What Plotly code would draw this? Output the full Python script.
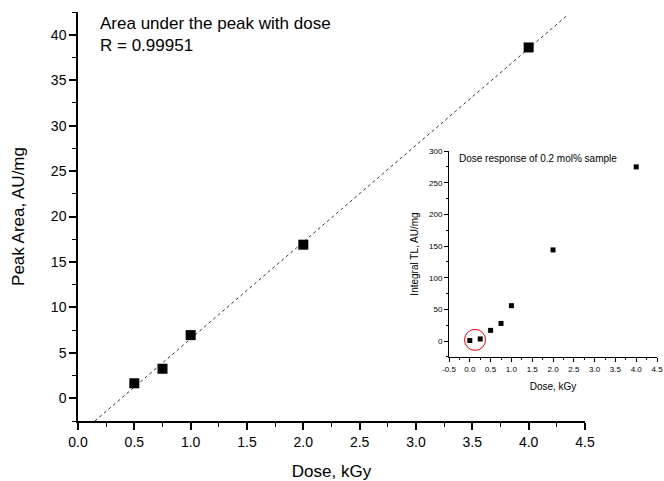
import numpy as np
import plotly.graph_objects as go

# Main plot data
dose_main = [0.5, 0.75, 1.0, 2.0, 4.0]
area_main = [1.65, 3.25, 6.95, 16.9, 38.6]
fit_x_range = [0.15, 4.34]

# Inset data
dose_inset = [0.0, 0.25, 0.5, 0.75, 1.0, 2.0, 4.0]
tl_inset = [1.0, 3.5, 17.0, 28.0, 56.0, 144.0, 275.0]
highlight_x = [0.125]
highlight_y = [2.0]

main_xticks = [0.0, 0.5, 1.0, 1.5, 2.0, 2.5, 3.0, 3.5, 4.0, 4.5]
main_yticks = [0, 5, 10, 15, 20, 25, 30, 35, 40]
inset_xticks = [-0.5, 0.0, 0.5, 1.0, 1.5, 2.0, 2.5, 3.0, 3.5, 4.0, 4.5]
inset_yticks = [0, 50, 100, 150, 200, 250, 300]

slope, intercept = np.polyfit(dose_main, area_main, 1)
fit_x = np.array(fit_x_range)
fit_y = slope * fit_x + intercept

FONT = "Liberation Sans, Arial, sans-serif"

fig = go.Figure()
fig.add_trace(go.Scatter(x=fit_x, y=fit_y, mode="lines",
                         line=dict(color="#333333", width=1, dash="dot"),
                         xaxis="x", yaxis="y", showlegend=False))
fig.add_trace(go.Scatter(x=dose_main, y=area_main, mode="markers",
                         marker=dict(symbol="square", size=10, color="black"),
                         xaxis="x", yaxis="y", showlegend=False))
fig.add_trace(go.Scatter(x=dose_inset, y=tl_inset, mode="markers",
                         marker=dict(symbol="square", size=5, color="black"),
                         xaxis="x2", yaxis="y2", showlegend=False))
fig.add_trace(go.Scatter(x=highlight_x, y=highlight_y, mode="markers",
                         marker=dict(symbol="circle-open", size=21, color="red",
                                     line=dict(color="red", width=1)),
                         xaxis="x2", yaxis="y2", showlegend=False))

axis_common = dict(showgrid=False, zeroline=False, showline=True, linecolor="black",
                   ticks="outside", tickcolor="black", mirror=False, automargin=False)

fig.update_layout(
    width=664, height=481,
    margin=dict(l=78, r=5, t=12, b=60, autoexpand=False),
    paper_bgcolor="white", plot_bgcolor="rgba(0,0,0,0)",
    font=dict(family=FONT, color="black"),
    xaxis=dict(**axis_common, domain=[0, 0.8726], range=[0, 4.5],
               tickvals=main_xticks, ticktext=[f"{v:.1f}" for v in main_xticks],
               ticklen=7, linewidth=1.5, tickwidth=1.5,
               minor=dict(dtick=0.25, ticks="outside", ticklen=4, tickcolor="black", tickwidth=1),
               tickfont=dict(size=14),
               title=dict(text="Dose, kGy", font=dict(size=17), standoff=20),
               anchor="y"),
    yaxis=dict(**axis_common, domain=[0, 1], range=[-2.5, 42.5],
               tickvals=main_yticks, ticklen=7, linewidth=1.5, tickwidth=1.5,
               minor=dict(dtick=2.5, ticks="outside", ticklen=4, tickcolor="black", tickwidth=1),
               tickfont=dict(size=14),
               title=dict(text="Peak Area, AU/mg", font=dict(size=17), standoff=22),
               anchor="x"),
    xaxis2=dict(**axis_common, domain=[0.6386, 0.9966], range=[-0.5, 4.5],
                tickvals=inset_xticks, ticktext=[f"{v:.1f}" for v in inset_xticks],
                ticklen=4, linewidth=1, tickwidth=1,
                minor=dict(dtick=0.25, ticks="outside", ticklen=2, tickcolor="black", tickwidth=1),
                tickfont=dict(size=8),
                title=dict(text="Dose, kGy", font=dict(size=10), standoff=10),
                anchor="y2"),
    yaxis2=dict(**axis_common, domain=[0.1565, 0.660], range=[-25, 300],
                tickvals=inset_yticks, ticklen=4, linewidth=1, tickwidth=1,
                minor=dict(dtick=25, ticks="outside", ticklen=2, tickcolor="black", tickwidth=1),
                tickfont=dict(size=8),
                title=dict(text="Integral TL, AU/mg", font=dict(size=10), standoff=8),
                anchor="x2"),
    annotations=[
        dict(text="Area under the peak with dose<br>R = 0.99951", xref="paper", yref="paper",
             x=0.0344, y=1.0, xanchor="left", yanchor="top", align="left", showarrow=False,
             font=dict(size=17, family=FONT)),
        dict(text="Dose response of 0.2 mol% sample", xref="paper", yref="paper",
             x=0.653, y=0.643, xanchor="left", yanchor="middle", align="left", showarrow=False,
             font=dict(size=10, family=FONT)),
    ],
)

fig.write_html("out.html")
